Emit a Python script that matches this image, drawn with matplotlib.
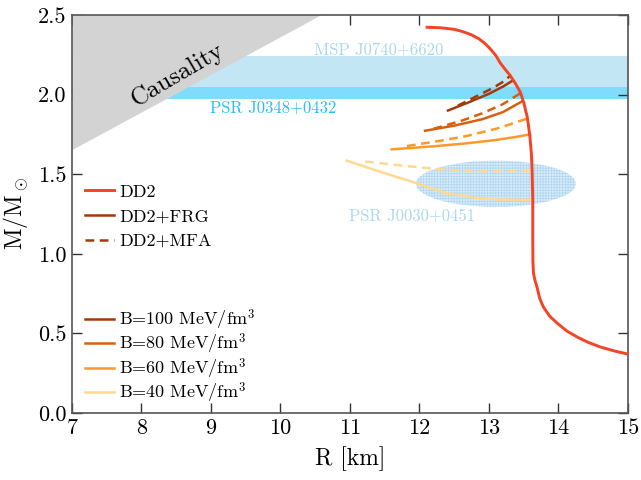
import matplotlib
matplotlib.use("Agg")
import matplotlib.pyplot as plt
from matplotlib.patches import Ellipse
from matplotlib.lines import Line2D
import numpy as np

plt.rcParams['font.family'] = 'serif'
plt.rcParams['font.serif'] = ['cmr10']
plt.rcParams['mathtext.fontset'] = 'cm'
plt.rcParams['axes.formatter.use_mathtext'] = True
plt.rcParams['hatch.linewidth'] = 0.5

# ---- data ----
dd2_R = [12.11, 12.30, 12.50, 12.62, 12.74, 12.85, 12.94, 13.01, 13.10, 13.16, 13.23, 13.30,
         13.38, 13.45, 13.50, 13.55, 13.57, 13.59, 13.61, 13.62, 13.63, 13.63, 13.632,
         13.64, 13.66, 13.69, 13.73, 13.78, 13.87, 13.98, 14.12, 14.27, 14.43, 14.60, 14.80, 15.0]
dd2_M = [2.423, 2.420, 2.410, 2.396, 2.377, 2.352, 2.322, 2.291, 2.245, 2.200, 2.160, 2.123,
         2.070, 2.016, 1.950, 1.860, 1.800, 1.730, 1.630, 1.530, 1.340, 1.090, 0.950,
         0.880, 0.835, 0.793, 0.720, 0.668, 0.610, 0.565, 0.515, 0.477, 0.443, 0.415, 0.390, 0.370]

b100_frg_R = [12.41, 12.70, 13.00, 13.20, 13.33]
b100_frg_M = [1.900, 1.950, 2.005, 2.050, 2.085]
b100_mfa_R = [12.55, 12.80, 13.05, 13.22, 13.31]
b100_mfa_M = [1.930, 1.985, 2.040, 2.085, 2.120]

b80_frg_R = [12.08, 12.50, 12.90, 13.20, 13.47]
b80_frg_M = [1.773, 1.805, 1.845, 1.890, 1.956]
b80_mfa_R = [12.20, 12.60, 12.90, 13.20, 13.45]
b80_mfa_M = [1.785, 1.835, 1.882, 1.940, 2.008]

b60_frg_R = [11.60, 12.20, 12.68, 13.10, 13.40, 13.59]
b60_frg_M = [1.656, 1.675, 1.694, 1.715, 1.735, 1.750]
b60_mfa_R = [11.82, 12.30, 12.68, 13.10, 13.35, 13.55]
b60_mfa_M = [1.677, 1.710, 1.740, 1.785, 1.820, 1.850]

b40_frg_R = [10.95, 11.43, 11.96, 12.39, 12.87, 13.20, 13.63]
b40_frg_M = [1.585, 1.516, 1.443, 1.380, 1.349, 1.340, 1.338]
b40_mfa_R = [11.22, 11.82, 12.29, 12.87, 13.20, 13.59]
b40_mfa_M = [1.579, 1.551, 1.531, 1.518, 1.520, 1.522]

causality_R = [7.0, 10.6]
causality_slope = 1 / 4.23

msp_band = (2.05, 2.24)
psr_band = (1.97, 2.05)
nicer_center = (13.10, 1.44)
nicer_width, nicer_height = 2.30, 0.29

xticks = [7, 8, 9, 10, 11, 12, 13, 14, 15]
yticks = [0.0, 0.5, 1.0, 1.5, 2.0, 2.5]

c_dd2 = '#f44325'
c_b = {100: '#a33a0c', 80: '#d95f0e', 60: '#fe9929', 40: '#fed98e'}

fig = plt.figure(figsize=(6.41, 4.80), dpi=100)
ax = fig.add_axes([0.1123, 0.1396, 0.9797 - 0.1123, 0.96875 - 0.1396])

# bands
ax.axhspan(*msp_band, color='#c3e6f5', lw=0, zorder=1)
ax.axhspan(*psr_band, color='#80dcfc', lw=0, zorder=1)

# causality
cr = np.array(causality_R)
ax.fill_between(cr, cr * causality_slope, 2.6, color='#d3d3d3', lw=0, zorder=2)
ax.text(8.52, 2.12, 'Causality', rotation=30.5, fontsize=18, ha='center', va='center', zorder=3)

# NICER ellipse
ell = Ellipse(nicer_center, nicer_width, nicer_height, facecolor='#d8ecf9',
              edgecolor='#afd5f0', hatch='++++++', lw=0, zorder=2)
ax.add_patch(ell)

ax.text(11.42, 2.28, 'MSP J0740+6620', color='#a9d8f0', fontsize=12, ha='center', va='center', zorder=3)
ax.text(9.89, 1.915, 'PSR J0348+0432', color='#20c0f8', fontsize=12, ha='center', va='center', zorder=3)
ax.text(11.89, 1.235, 'PSR J0030+0451', color='#a9d8f0', fontsize=12, ha='center', va='center', zorder=3)

dash = (0, (3.5, 2.2))
lw_h = 1.8
ax.plot(b40_frg_R, b40_frg_M, color=c_b[40], lw=lw_h, zorder=4)
ax.plot(b40_mfa_R, b40_mfa_M, color=c_b[40], lw=lw_h, ls=dash, zorder=4)
ax.plot(b60_frg_R, b60_frg_M, color=c_b[60], lw=lw_h, zorder=4)
ax.plot(b60_mfa_R, b60_mfa_M, color=c_b[60], lw=lw_h, ls=dash, zorder=4)
ax.plot(b80_frg_R, b80_frg_M, color=c_b[80], lw=lw_h, zorder=4)
ax.plot(b80_mfa_R, b80_mfa_M, color=c_b[80], lw=lw_h, ls=dash, zorder=4)
ax.plot(b100_frg_R, b100_frg_M, color=c_b[100], lw=lw_h, zorder=4)
ax.plot(b100_mfa_R, b100_mfa_M, color=c_b[100], lw=lw_h, ls=dash, zorder=4)
ax.plot(dd2_R, dd2_M, color=c_dd2, lw=2.1, zorder=5, solid_joinstyle='round')

ax.set_xlim(7, 15)
ax.set_ylim(0, 2.5)
ax.set_xticks(xticks)
ax.set_yticks(yticks)
ax.set_xticklabels([str(t) for t in xticks])
ax.set_yticklabels(['%.1f' % t for t in yticks])
ax.tick_params(direction='in', top=True, right=True, length=7, width=1, labelsize=16, pad=4,
               color='#333333')
for s in ax.spines.values():
    s.set_color('#555555')
    s.set_linewidth(1.2)
ax.set_xlabel('R [km]', fontsize=17, labelpad=6)
ax.set_ylabel(r'M/M$_\odot$', fontsize=17, labelpad=6)

# legends
h1 = [Line2D([], [], color=c_dd2, lw=2.1),
      Line2D([], [], color=c_b[100], lw=lw_h),
      Line2D([], [], color=c_b[100], lw=lw_h, ls=dash)]
leg1 = ax.legend(h1, ['DD2', 'DD2+FRG', 'DD2+MFA'], loc='upper left',
                 bbox_to_anchor=(0.0, 0.607), frameon=False, fontsize=13,
                 handlelength=1.6, handletextpad=0.3, labelspacing=0.5, borderaxespad=0.3)
ax.add_artist(leg1)
h2 = [Line2D([], [], color=c_b[b], lw=lw_h) for b in (100, 80, 60, 40)]
ax.legend(h2, [r'B=%d MeV/fm$^3$' % b for b in (100, 80, 60, 40)], loc='lower left',
          bbox_to_anchor=(0.0, -0.012), frameon=False, fontsize=13,
          handlelength=1.6, handletextpad=0.3, labelspacing=0.0, borderaxespad=0.3)

fig.savefig('out.png', dpi=100)
